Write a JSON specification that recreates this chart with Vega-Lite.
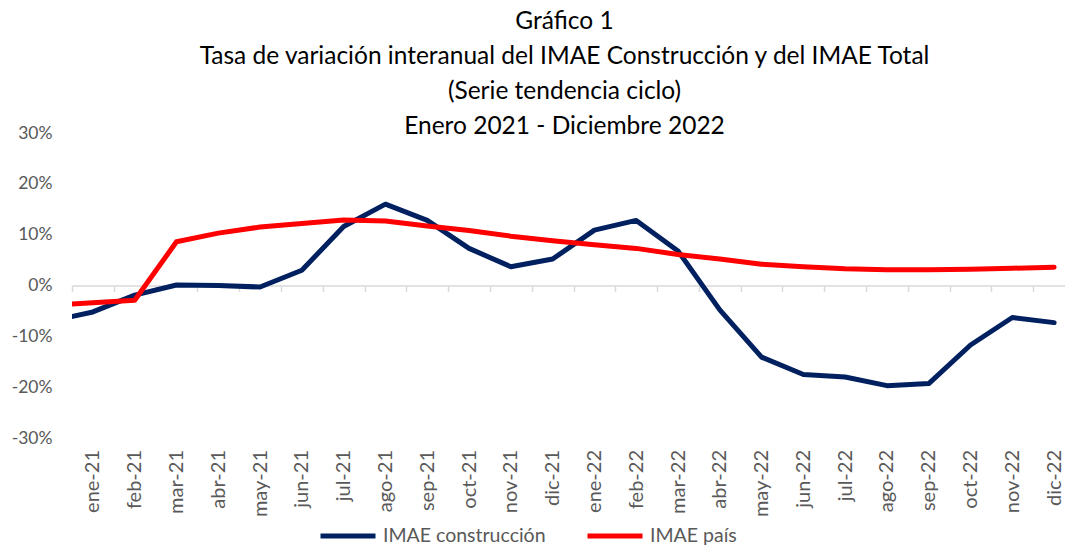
{
  "$schema": "https://vega.github.io/schema/vega-lite/v6.json",
  "width": 993,
  "height": 305,
  "autosize": {"type": "none"},
  "padding": {"left": 72, "top": 133, "right": 0, "bottom": 110},
  "background": "white",
  "config": {
    "view": {"stroke": null},
    "font": "Lato",
    "axis": {"labelFont": "Lato", "labelColor": "#595959", "labelFontSize": 17.5},
    "legend": {"labelFont": "Lato", "labelColor": "#595959", "labelFontSize": 19.5}
  },
  "title": {
    "text": ["Gráfico 1", "Tasa de variación interanual del IMAE Construcción y del IMAE Total", "(Serie tendencia ciclo)", "Enero 2021 - Diciembre 2022"],
    "font": "Lato",
    "fontSize": 24.5,
    "fontWeight": "normal",
    "color": "#000000",
    "lineHeight": 35,
    "anchor": "middle",
    "dx": -4,
    "offset": -15
  },
  "data": {
    "values": [
      {"i": 0, "serie": "IMAE construcción", "valor": -7.0},
      {"i": 1, "serie": "IMAE construcción", "valor": -5.2},
      {"i": 2, "serie": "IMAE construcción", "valor": -1.9},
      {"i": 3, "serie": "IMAE construcción", "valor": 0.1},
      {"i": 4, "serie": "IMAE construcción", "valor": 0.0},
      {"i": 5, "serie": "IMAE construcción", "valor": -0.3},
      {"i": 6, "serie": "IMAE construcción", "valor": 3.0},
      {"i": 7, "serie": "IMAE construcción", "valor": 11.6},
      {"i": 8, "serie": "IMAE construcción", "valor": 16.0},
      {"i": 9, "serie": "IMAE construcción", "valor": 12.8},
      {"i": 10, "serie": "IMAE construcción", "valor": 7.3},
      {"i": 11, "serie": "IMAE construcción", "valor": 3.7},
      {"i": 12, "serie": "IMAE construcción", "valor": 5.2},
      {"i": 13, "serie": "IMAE construcción", "valor": 10.9},
      {"i": 14, "serie": "IMAE construcción", "valor": 12.8},
      {"i": 15, "serie": "IMAE construcción", "valor": 6.8},
      {"i": 16, "serie": "IMAE construcción", "valor": -4.8},
      {"i": 17, "serie": "IMAE construcción", "valor": -14.1},
      {"i": 18, "serie": "IMAE construcción", "valor": -17.5},
      {"i": 19, "serie": "IMAE construcción", "valor": -18.0},
      {"i": 20, "serie": "IMAE construcción", "valor": -19.7},
      {"i": 21, "serie": "IMAE construcción", "valor": -19.3},
      {"i": 22, "serie": "IMAE construcción", "valor": -11.7},
      {"i": 23, "serie": "IMAE construcción", "valor": -6.3},
      {"i": 24, "serie": "IMAE construcción", "valor": -7.3},
      {"i": 0, "serie": "IMAE país", "valor": -3.9},
      {"i": 1, "serie": "IMAE país", "valor": -3.4},
      {"i": 2, "serie": "IMAE país", "valor": -2.9},
      {"i": 3, "serie": "IMAE país", "valor": 8.6},
      {"i": 4, "serie": "IMAE país", "valor": 10.3},
      {"i": 5, "serie": "IMAE país", "valor": 11.5},
      {"i": 6, "serie": "IMAE país", "valor": 12.2},
      {"i": 7, "serie": "IMAE país", "valor": 12.9},
      {"i": 8, "serie": "IMAE país", "valor": 12.7},
      {"i": 9, "serie": "IMAE país", "valor": 11.7},
      {"i": 10, "serie": "IMAE país", "valor": 10.8},
      {"i": 11, "serie": "IMAE país", "valor": 9.7},
      {"i": 12, "serie": "IMAE país", "valor": 8.8},
      {"i": 13, "serie": "IMAE país", "valor": 8.0},
      {"i": 14, "serie": "IMAE país", "valor": 7.3},
      {"i": 15, "serie": "IMAE país", "valor": 6.1},
      {"i": 16, "serie": "IMAE país", "valor": 5.2},
      {"i": 17, "serie": "IMAE país", "valor": 4.2},
      {"i": 18, "serie": "IMAE país", "valor": 3.7},
      {"i": 19, "serie": "IMAE país", "valor": 3.3},
      {"i": 20, "serie": "IMAE país", "valor": 3.1},
      {"i": 21, "serie": "IMAE país", "valor": 3.1},
      {"i": 22, "serie": "IMAE país", "valor": 3.2},
      {"i": 23, "serie": "IMAE país", "valor": 3.4},
      {"i": 24, "serie": "IMAE país", "valor": 3.6}
    ]
  },
  "mark": {"type": "line", "strokeWidth": 5, "strokeCap": "round", "strokeJoin": "round", "clip": true},
  "encoding": {
    "x": {
      "field": "i",
      "type": "quantitative",
      "scale": {"domain": [0.5, 24.26], "nice": false, "zero": false},
      "axis": {
        "title": null,
        "values": [0.5, 1.5, 2.5, 3.5, 4.5, 5.5, 6.5, 7.5, 8.5, 9.5, 10.5, 11.5, 12.5, 13.5, 14.5, 15.5, 16.5, 17.5, 18.5, 19.5, 20.5, 21.5, 22.5, 23.5],
        "labelExpr": "['ene-21','feb-21','mar-21','abr-21','may-21','jun-21','jul-21','ago-21','sep-21','oct-21','nov-21','dic-21','ene-22','feb-22','mar-22','abr-22','may-22','jun-22','jul-22','ago-22','sep-22','oct-22','nov-22','dic-22'][datum.value - 0.5]",
        "labelAngle": -90,
        "labelFontSize": 20,
        "labelOffset": 20.9,
        "labelPadding": 158,
        "labelOverlap": false,
        "labelFlush": false,
        "labelBound": false,
        "offset": -152.5,
        "domainColor": "#d9d9d9",
        "domainWidth": 1.5,
        "tickColor": "#d9d9d9",
        "tickWidth": 1.5,
        "tickSize": 6,
        "grid": false
      }
    },
    "y": {
      "field": "valor",
      "type": "quantitative",
      "scale": {"domain": [-30, 30], "nice": false},
      "axis": {
        "title": null,
        "values": [-30, -20, -10, 0, 10, 20, 30],
        "labelExpr": "datum.value + '%'",
        "domain": false,
        "ticks": false,
        "grid": false,
        "labelPadding": 20
      }
    },
    "color": {
      "field": "serie",
      "type": "nominal",
      "scale": {"domain": ["IMAE construcción", "IMAE país"], "range": ["#002060", "#FF0000"]},
      "legend": {
        "title": null,
        "orient": "none",
        "direction": "horizontal",
        "legendX": 246,
        "legendY": 373,
        "symbolType": "stroke",
        "symbolSize": 3025,
        "symbolStrokeWidth": 5,
        "labelOffset": 5,
        "labelLimit": 400,
        "columnPadding": 31
      }
    }
  }
}
